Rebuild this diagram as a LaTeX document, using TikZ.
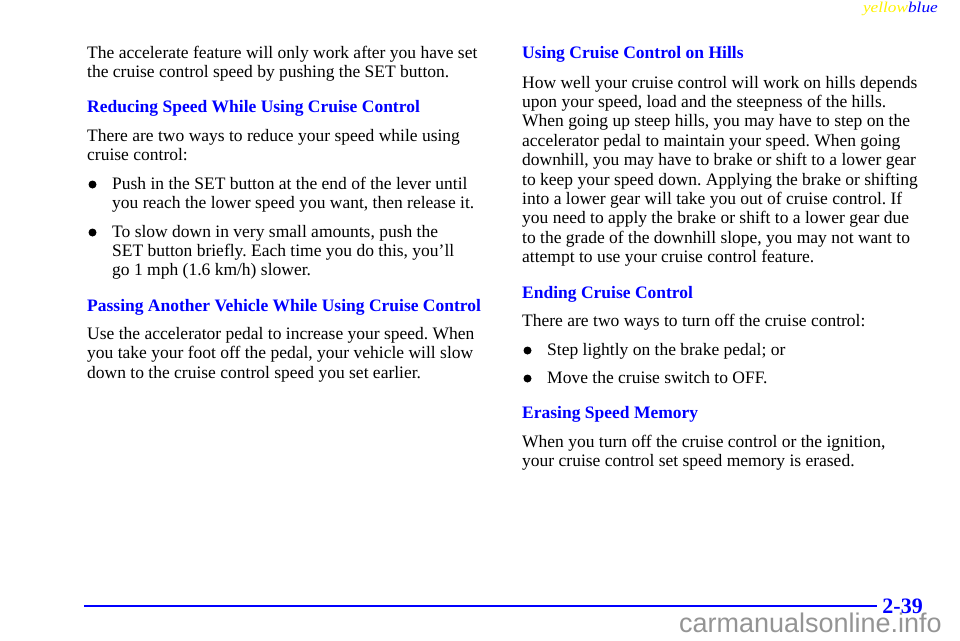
\documentclass[tikz,border=0pt]{standalone}
\usepackage{fontspec}
\setmainfont{Liberation Serif}
\newfontfamily\wmfont{Liberation Sans}
\newfontfamily\tagfont[FakeStretch=1.15]{Liberation Serif Italic}
\usepackage{xcolor}
\frenchspacing
\lineskiplimit=-20pt
\tikzset{>=latex,
    body/.style={anchor=base west, inner sep=0pt, align=left,
      font=\fontsize{17.5}{19.4}\selectfont},
    head/.style={body, text=blue, font=\fontsize{17.5}{19.4}\selectfont\bfseries},
    dot/.style={circle, fill=black, inner sep=0pt, minimum size=8pt}}

\begin{document}
\begin{tikzpicture}[x=1pt, y=-1pt]
    \useasboundingbox (0,0) rectangle (960,640);
    % header tag
    \node[anchor=base east, inner sep=0pt, font=\fontsize{15}{15}\tagfont] (tag) at (938,12.5)
      {\textcolor{yellow}{yellow}\textcolor{blue}{blue}};
    % left column (multi-line nodes sit on their last baseline)
    \node[body] (intro) at (87,77.4) {The accelerate feature will only work after you have set\\
      the cruise control speed by pushing the SET button.};
    \node[head] (reduceh) at (87,112.5) {Reducing Speed While Using Cruise Control};
    \node[body] (reduce) at (87,160.4) {There are two ways to reduce your speed while using\\cruise control:};
    \node[dot] (d1) at (92.5,184.5) {};
    \node[body] (push) at (112,208.4) {Push in the SET button at the end of the lever until\\
      you reach the lower speed you want, then release it.};
    \node[dot] (d2) at (92.5,232.5) {};
    \node[body] (slow) at (112,275.8) {To slow down in very small amounts, push the\\
      SET button briefly. Each time you do this, you’ll\\go 1 mph (1.6 km/h) slower.};
    \node[head] (passh) at (87,311) {Passing Another Vehicle While Using Cruise Control};
    \node[body] (pass) at (87,378.3) {Use the accelerator pedal to increase your speed. When\\
      you take your foot off the pedal, your vehicle will slow\\
      down to the cruise control speed you set earlier.};
    % right column
    \node[head] (hillsh) at (522,58) {Using Cruise Control on Hills};
    \node[body] (hills) at (522,262.6) {How well your cruise control will work on hills depends\\
      upon your speed, load and the steepness of the hills.\\
      When going up steep hills, you may have to step on the\\
      accelerator pedal to maintain your speed. When going\\
      downhill, you may have to brake or shift to a lower gear\\
      to keep your speed down. Applying the brake or shifting\\
      into a lower gear will take you out of cruise control. If\\
      you need to apply the brake or shift to a lower gear due\\
      to the grade of the downhill slope, you may not want to\\
      attempt to use your cruise control feature.};
    \node[head] (endh) at (522,298) {Ending Cruise Control};
    \node[body] (end) at (522,326) {There are two ways to turn off the cruise control:};
    \node[dot] (d3) at (527.5,350.5) {};
    \node[body] (brake) at (547,355) {Step lightly on the brake pedal; or};
    \node[dot] (d4) at (527.5,378.5) {};
    \node[body] (switch) at (547,383) {Move the cruise switch to OFF.};
    \node[head] (eraseh) at (522,418) {Erasing Speed Memory};
    \node[body] (erase) at (522,466.4) {When you turn off the cruise control or the ignition,\\
      your cruise control set speed memory is erased.};
    % footer
    \coordinate (rulea) at (84,606);
    \coordinate (ruleb) at (877,606);
    \draw[blue, line width=2.3pt] (rulea) -- (ruleb);
    \node[anchor=base east, inner sep=0pt, text=blue, font=\fontsize{22}{22}\selectfont\bfseries] (page) at (923,613) {2-39};
    \node[anchor=base east, inner sep=0pt, text=black!42, font=\fontsize{27}{27}\wmfont] (mark) at (942,632) {carmanualsonline.info};
\end{tikzpicture}
\end{document}
